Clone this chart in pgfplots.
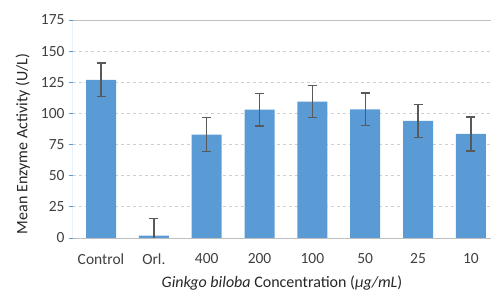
\documentclass[border=0pt]{standalone}
\usepackage{pgfplots}
\pgfplotsset{compat=1.18}
\usepackage{fontspec}
\setmainfont{Carlito}
\definecolor{barblue}{HTML}{5B9BD5}
\definecolor{errgray}{HTML}{595959}
\definecolor{txtgray}{HTML}{404040}
\definecolor{gridgray}{HTML}{D0D0D0}
\definecolor{axgray}{HTML}{BFBFBF}
\begin{document}
\begin{tikzpicture}
\useasboundingbox (-73pt,-52pt) rectangle (418pt,238pt);
\begin{axis}[
  at={(0,0)}, anchor=south west,
  scale only axis,
  width=418pt, height=218pt,
  xmin=-0.53, xmax=7.38,
  ymin=0, ymax=175,
  ytick={0,25,...,175},
  xtick={0,...,7},
  xticklabels={Control,Orl.,400,200,100,50,25,10},
  axis line style={draw=none},
  ymajorgrids,
  grid style={gridgray, dashed, line width=0.8pt},
  major tick length=4pt,
  xtick style={draw=none},
  ytick style={barblue, line width=0.8pt},
  ytick align=outside,
  tick label style={font=\fontsize{15.5}{17}\selectfont, text=txtgray},
  /pgf/number format/assume math mode=true,
  yticklabel style={xshift=-1pt},
  xticklabel style={yshift=-12pt},
  xlabel={\textit{Ginkgo biloba} Concentration (\textit{µg/mL})},
  ylabel={Mean Enzyme Activity (U/L)},
  label style={font=\fontsize{16}{18}\selectfont, text=black!85},
  xlabel style={yshift=-4.5pt},
  ylabel style={yshift=4pt, xshift=-15pt},
  clip=true,
]
\addplot[ybar, bar width=30pt, fill=barblue, draw=none,
  error bars/.cd, y dir=both, y explicit,
  error bar style={errgray, line width=1.3pt},
  error mark options={rotate=90, mark size=4.5pt, errgray, line width=1.3pt}]
  coordinates {
  (0,127) +- (0,13.4)
  (1,2) +- (0,13.4)
  (2,83) +- (0,13.5)
  (3,103) +- (0,13)
  (4,109.5) +- (0,13)
  (5,103.3) +- (0,13)
  (6,94) +- (0,13.4)
  (7,83.5) +- (0,13.6)
  };
\draw[axgray, line width=1.2pt] (rel axis cs:0,1) -- (rel axis cs:1,1);
\draw[axgray, line width=1pt] (rel axis cs:0,0) -- (rel axis cs:1,0);
\draw[barblue, line width=1pt] (rel axis cs:0,0) -- (rel axis cs:0,1);
\end{axis}
\end{tikzpicture}
\end{document}
